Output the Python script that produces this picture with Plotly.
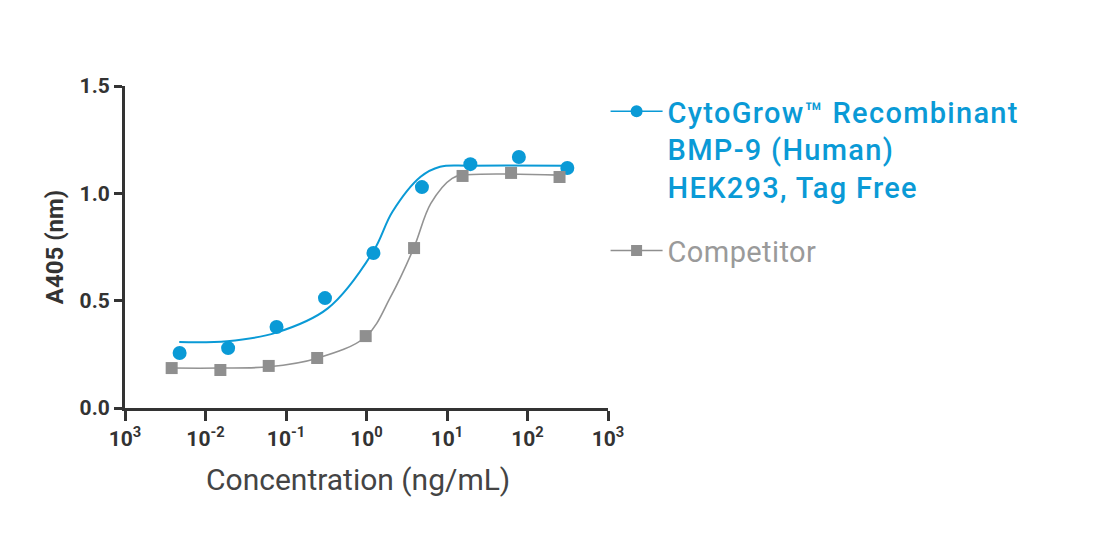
import plotly.graph_objects as go

# Data
conc_cyto = [0.00477, 0.0191, 0.0763, 0.305, 1.22, 4.88, 19.5, 78.1, 312.5]
a405_cyto = [0.256, 0.279, 0.377, 0.512, 0.722, 1.029, 1.136, 1.169, 1.118]

conc_comp = [0.0038, 0.0153, 0.061, 0.244, 0.977, 3.9, 15.6, 62.5, 250.0]
a405_comp = [0.186, 0.177, 0.196, 0.233, 0.335, 0.745, 1.081, 1.095, 1.076]

# Fitted curves
fit_x_cyto = [0.00472, 0.0186, 0.0754, 0.33, 1.21, 2.1, 4.7, 8.2, 19.0, 313.0]
fit_y_cyto = [0.307, 0.311, 0.351, 0.464, 0.728, 0.914, 1.077, 1.124, 1.129, 1.129]

fit_x_comp = [0.0038, 0.0153, 0.061, 0.24, 0.98, 2.0, 3.85, 6.3, 11.6, 16.3, 250.0]
fit_y_comp = [0.186, 0.186, 0.192, 0.231, 0.332, 0.519, 0.744, 0.953, 1.070, 1.085, 1.085]

tick_vals = [0.001, 0.01, 0.1, 1, 10, 100, 1000]
tick_text = ["10<sup>3</sup>", "10<sup>-2</sup>", "10<sup>-1</sup>", "10<sup>0</sup>",
             "10<sup>1</sup>", "10<sup>2</sup>", "10<sup>3</sup>"]
y_ticks = [0, 0.5, 1.0, 1.5]
y_tick_text = ["0.0", "0.5", "1.0", "1.5"]

x_title = "Concentration (ng/mL)"
y_title = "A405 (nm)"

name_cyto = ('<span style="color:#0a9ad6;font-weight:500;letter-spacing:1.3px">'
             'CytoGrow™ Recombinant<br>BMP-9 (Human)<br>HEK293, Tag Free</span>')
name_comp = '<span style="color:#9a9a9a;letter-spacing:0.4px">Competitor</span>'

BLUE = "#0a9ad6"
GRAY = "#8f8f8f"
AX = "#333333"

fig = go.Figure()
fig.add_trace(go.Scatter(x=fit_x_cyto, y=fit_y_cyto, mode="lines",
                         line=dict(color=BLUE, width=2, shape="spline", smoothing=1.0),
                         showlegend=False, hoverinfo="skip"))
fig.add_trace(go.Scatter(x=fit_x_comp, y=fit_y_comp, mode="lines",
                         line=dict(color="#939393", width=1.6, shape="spline", smoothing=1.0),
                         showlegend=False, hoverinfo="skip"))
fig.add_trace(go.Scatter(x=conc_cyto, y=a405_cyto, mode="markers",
                         marker=dict(symbol="circle", size=14, color=BLUE),
                         showlegend=False))
fig.add_trace(go.Scatter(x=conc_comp, y=a405_comp, mode="markers",
                         marker=dict(symbol="square", size=12, color=GRAY),
                         showlegend=False))
# legend entries
fig.add_trace(go.Scatter(x=[None], y=[None], mode="lines+markers", name=name_cyto,
                         legendgroup="a",
                         line=dict(color=BLUE, width=1.5),
                         marker=dict(symbol="circle", size=12, color=BLUE)))
fig.add_trace(go.Scatter(x=[None], y=[None], mode="lines+markers", name=name_comp,
                         legendgroup="b",
                         line=dict(color=GRAY, width=1.5),
                         marker=dict(symbol="square", size=11, color=GRAY)))

fig.add_annotation(text=x_title, xref="paper", yref="paper", x=0.4824, y=-0.2236,
                   xanchor="center", yanchor="middle", showarrow=False,
                   font=dict(size=30, color="#444444", family="Roboto"))

fig.update_layout(
    width=1096, height=526,
    margin=dict(l=117, r=496, t=78, b=126),
    paper_bgcolor="white", plot_bgcolor="white",
    font=dict(family="Roboto", color=AX),
    legend=dict(x=0.995, y=1.0, xanchor="left", yanchor="top", valign="top",
                font=dict(size=29, family="Roboto"), tracegroupgap=23,
                itemwidth=52, bgcolor="rgba(0,0,0,0)"),
    xaxis=dict(type="log", range=[-3, 3], tickvals=tick_vals, ticktext=tick_text,
               showline=True, linecolor=AX, linewidth=3, ticks="outside",
               ticklen=10, tickwidth=3, tickcolor=AX, showgrid=False, zeroline=False,
               tickfont=dict(size=21, color=AX, family="Roboto", weight="bold")),
    yaxis=dict(range=[0, 1.5], tickvals=y_ticks, ticktext=y_tick_text,
               showline=True, linecolor=AX, linewidth=3, ticks="outside",
               ticklen=8, tickwidth=3, tickcolor=AX, showgrid=False, zeroline=False,
               tickfont=dict(size=21, color=AX, family="Roboto", weight="bold"),
               title=dict(text=y_title, standoff=10,
                          font=dict(size=24, color=AX, family="Roboto", weight="bold"))),
)

fig.write_html("out.html")
